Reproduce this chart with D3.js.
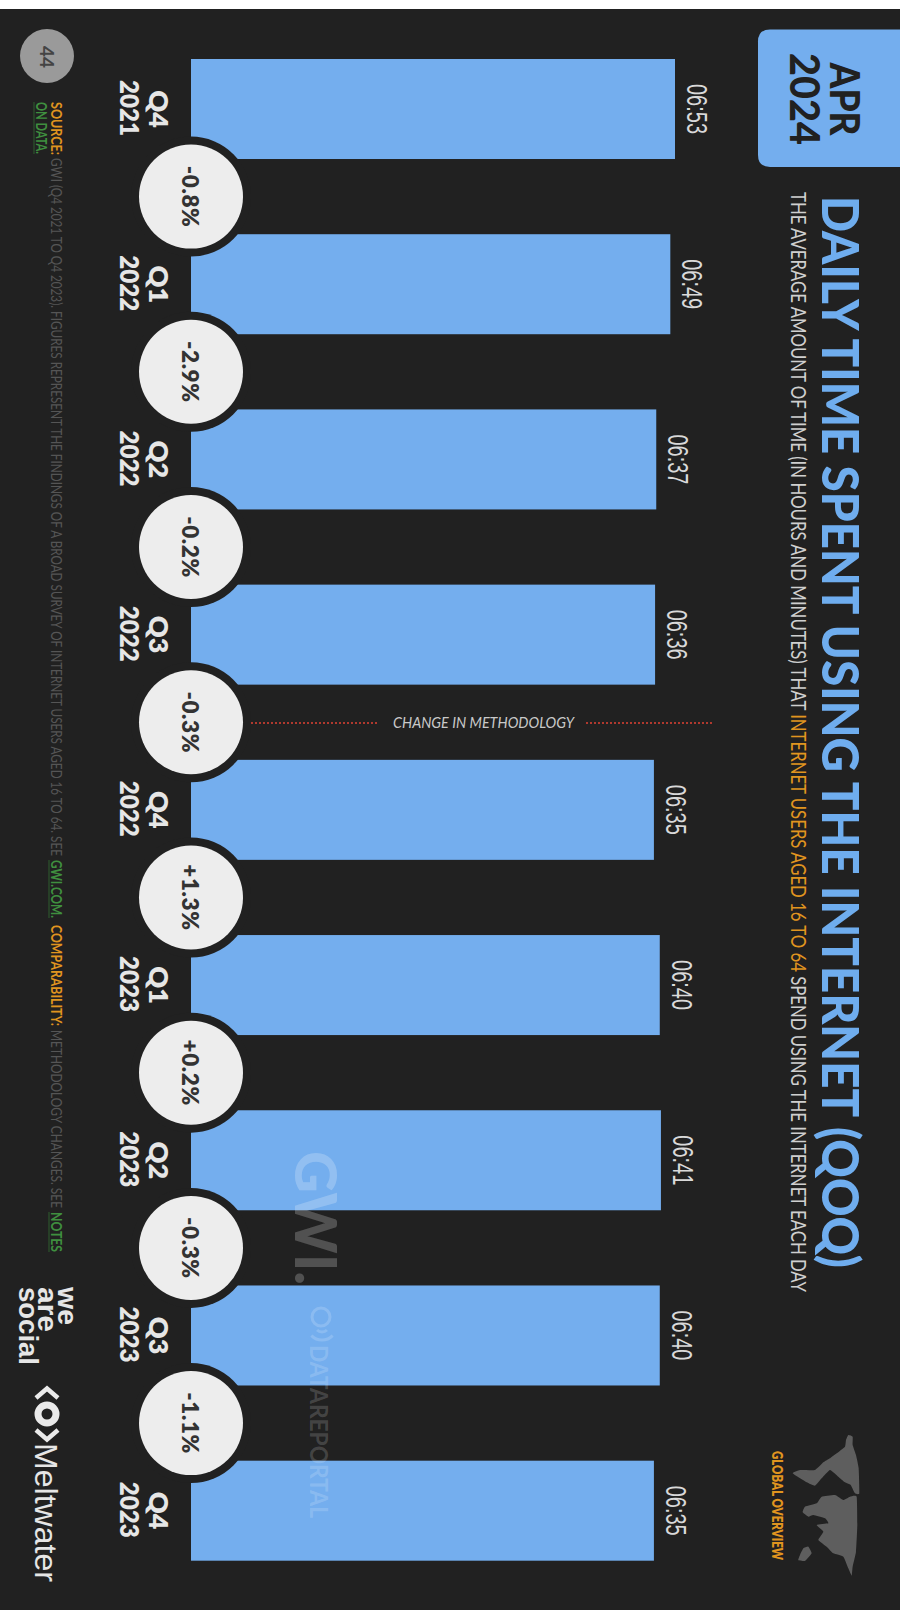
<!DOCTYPE html>
<html>
<head>
<meta charset="utf-8">
<title>Daily time spent using the internet (QoQ)</title>
<script src="https://cdn.jsdelivr.net/npm/d3@7"></script>
<style>
  html, body { margin: 0; padding: 0; background: #fff; }
  svg { display: block; }
  text { font-family: Lato, "Open Sans", sans-serif; }
</style>
</head>
<body>
<svg id="chart" width="900" height="1620"></svg>
<script>
// Quarterly series: average daily time online, with the quarter-on-quarter change.
const quarters = ["Q4", "Q1", "Q2", "Q3", "Q4", "Q1", "Q2", "Q3", "Q4"];
const years = ["2021", "2022", "2022", "2022", "2022", "2023", "2023", "2023", "2023"];
const durations = ["06:53", "06:49", "06:37", "06:36", "06:35", "06:40", "06:41", "06:40", "06:35"];
const changes = ["-0.8%", "-2.9%", "-0.2%", "-0.3%", "+1.3%", "+0.2%", "-0.3%", "-1.1%"];
const methodologyBreakAfter = 3;

const titleText = "DAILY TIME SPENT USING THE INTERNET (QOQ)";
const subtitleParts = [
  ["THE AVERAGE AMOUNT OF TIME (IN HOURS AND MINUTES) THAT ", "#cfcfcf"],
  ["INTERNET USERS AGED 16 TO 64", "#e0951f"],
  [" SPEND USING THE INTERNET EACH DAY", "#cfcfcf"]
];
const sourceParts = [
  ["SOURCE:", "#e0951f", 700, 102, 53],
  ["GWI (Q4 2021 TO Q4 2023). FIGURES REPRESENT THE FINDINGS OF A BROAD SURVEY OF INTERNET USERS AGED 16 TO 64. SEE", "#555555", 400, 158, 698],
  ["GWI.COM.", "#3f8f3f", 700, 860, 58],
  ["COMPARABILITY:", "#e0951f", 700, 925, 101],
  ["METHODOLOGY CHANGES. SEE", "#555555", 400, 1030, 178],
  ["NOTES", "#3f8f3f", 700, 1212, 40]
];

const BACKGROUND = "#212121";
const BLUE = "#74aeee";

const toMinutes = t => { const [h, m] = t.split(":").map(Number); return h * 60 + m; };
const minutes = durations.map(toMinutes);
const indices = d3.range(durations.length);

const svg = d3.select("#chart");
svg.append("rect").attr("x", 0).attr("y", 9).attr("width", 900).attr("height", 1601).attr("fill", BACKGROUND);

// The slide is laid out landscape, then turned a quarter clockwise.
const slide = svg.append("g").attr("transform", "translate(900,0) rotate(90)");

const BASELINE = 709;
const x = d3.scaleBand().domain(indices).range([59, 1560.7]).paddingInner(0.4292).paddingOuter(0);
const y = d3.scaleLinear().domain([0, d3.max(minutes)]).range([BASELINE, BASELINE - 484]);

// Date tab
slide.append("path")
  .attr("d", "M29.5,-5 V130 Q29.5,142 41.5,142 H155 Q167,142 167,130 V-5 Z")
  .attr("fill", BLUE);
slide.append("text").attr("x", 99).attr("y", 70).attr("text-anchor", "middle")
  .attr("font-size", 41).attr("font-weight", 900).attr("fill", BACKGROUND)
  .attr("textLength", 73).attr("lengthAdjust", "spacingAndGlyphs").text("APR");
slide.append("text").attr("x", 99).attr("y", 110).attr("text-anchor", "middle")
  .attr("font-size", 41).attr("font-weight", 900).attr("fill", BACKGROUND)
  .attr("textLength", 92).attr("lengthAdjust", "spacingAndGlyphs").text("2024");

// Heading
slide.append("text").attr("x", 196).attr("y", 78)
  .attr("font-size", 52).attr("font-weight", 900).attr("fill", "#6fadee")
  .attr("textLength", 1072).attr("lengthAdjust", "spacingAndGlyphs").text(titleText);

const subtitle = slide.append("text").attr("x", 192).attr("y", 109.5)
  .attr("font-size", 20.5).attr("textLength", 1100).attr("lengthAdjust", "spacingAndGlyphs");
subtitle.selectAll("tspan").data(subtitleParts).join("tspan")
  .attr("fill", d => d[1]).attr("xml:space", "preserve").text(d => d[0]);

// Bars
slide.append("g").selectAll("rect").data(indices).join("rect")
  .attr("x", i => x(i)).attr("width", x.bandwidth())
  .attr("y", i => y(minutes[i])).attr("height", i => BASELINE - y(minutes[i]))
  .attr("fill", BLUE);

// Duration labels
slide.append("g").selectAll("text").data(indices).join("text")
  .attr("x", i => x(i) + x.bandwidth() / 2).attr("y", i => y(minutes[i]) - 12)
  .attr("text-anchor", "middle").attr("font-size", 30).attr("fill", "#d9d9d9")
  .style("font-family", '"Liberation Sans Narrow", "Liberation Sans", sans-serif')
  .attr("textLength", 50).attr("lengthAdjust", "spacingAndGlyphs")
  .text(i => durations[i]);

// Category axis: quarter over year
const axis = slide.append("g").attr("transform", `translate(0,${BASELINE})`)
  .call(d3.axisBottom(x).tickSize(0).tickFormat(""));
axis.select(".domain").remove();
axis.selectAll(".tick text").each(function (i) {
  const label = d3.select(this).attr("y", null).attr("dy", null)
    .attr("fill", "#e6e6e6").attr("font-size", 27).attr("font-weight", 800)
    .attr("text-anchor", "middle");
  label.append("tspan").attr("x", 0).attr("y", 42).text(quarters[i]);
  label.append("tspan").attr("x", -1).attr("y", 71).attr("textLength", 56)
    .attr("lengthAdjust", "spacingAndGlyphs").text(years[i]);
});

// Change badges sit across the baseline, midway between neighbouring bars
const midpoint = i => (x(i) + x.bandwidth() + x(i + 1)) / 2;
const badges = slide.append("g").selectAll("g").data(changes).join("g")
  .attr("transform", (d, i) => `translate(${midpoint(i)},${BASELINE})`);
badges.append("circle").attr("r", 60).attr("fill", BACKGROUND);
badges.append("circle").attr("r", 52).attr("fill", "#ededed");
badges.append("text").attr("text-anchor", "middle").attr("y", 9)
  .attr("font-size", 22.5).attr("font-weight", 800).attr("letter-spacing", 0.6)
  .attr("fill", "#333").text(d => d);

// Methodology marker, read across the gap between two bars
const breakY = midpoint(methodologyBreakAfter);
const dotted = [[251, 379], [586, 714]];
svg.append("g").selectAll("line").data(dotted).join("line")
  .attr("x1", d => d[0]).attr("x2", d => d[1]).attr("y1", breakY + 0.7).attr("y2", breakY + 0.7)
  .attr("stroke", "#b0392e").attr("stroke-width", 2).attr("stroke-dasharray", "2 2");
svg.append("text").attr("x", 393).attr("y", breakY + 6)
  .attr("font-size", 15.5).attr("font-style", "italic").attr("fill", "#c9c9c9")
  .attr("textLength", 181).attr("lengthAdjust", "spacingAndGlyphs").text("CHANGE IN METHODOLOGY");

// Faint publisher marks laid over the chart
const marks = slide.append("g");
marks.append("text").attr("x", 1151).attr("y", 605)
  .attr("font-size", 58).attr("font-weight", 900).attr("fill", "#fff").attr("fill-opacity", 0.22)
  .attr("textLength", 134).attr("lengthAdjust", "spacingAndGlyphs").text("GWI.");
marks.append("text").attr("x", 1345).attr("y", 590)
  .attr("font-size", 25).attr("font-weight", 700).attr("fill", "#fff").attr("fill-opacity", 0.17)
  .attr("textLength", 173).attr("lengthAdjust", "spacingAndGlyphs").text("DATAREPORTAL");
const waves = marks.append("g").attr("transform", "translate(1325,578)")
  .attr("fill", "none").attr("stroke", "#fff").attr("stroke-opacity", 0.17).attr("stroke-width", 3);
[7, 15].forEach(r => waves.append("path").attr("d", d3.arc()({
  innerRadius: r, outerRadius: r, startAngle: Math.PI / 4, endAngle: Math.PI * 3 / 4
})));
waves.append("circle").attr("r", 9).attr("cx", -8).attr("cy", 1);

// Page number
slide.append("circle").attr("cx", 56).attr("cy", 853).attr("r", 27).attr("fill", "#9a9a9a");
slide.append("text").attr("x", 57).attr("y", 860).attr("text-anchor", "middle")
  .attr("font-size", 19).attr("font-weight", 700).attr("fill", "#444").text("44");

// Source note
slide.append("g").selectAll("text").data(sourceParts).join("text")
  .attr("x", d => d[3]).attr("y", 849).attr("font-size", 14.5).attr("font-weight", d => d[2])
  .attr("fill", d => d[1]).attr("textLength", d => d[4]).attr("lengthAdjust", "spacingAndGlyphs")
  .text(d => d[0]);
slide.append("text").attr("x", 102).attr("y", 864).attr("font-size", 14.5).attr("font-weight", 700)
  .attr("fill", "#3f8f3f").attr("textLength", 52).attr("lengthAdjust", "spacingAndGlyphs").text("ON DATA.");
const noteRules = [[102, 154, 866], [860, 918, 851], [1212, 1252, 851]];
slide.append("g").selectAll("line").data(noteRules).join("line")
  .attr("x1", d => d[0]).attr("x2", d => d[1]).attr("y1", d => d[2]).attr("y2", d => d[2])
  .attr("stroke", "#2f5f2f").attr("stroke-width", 1);

// Partner names
const partnerLines = ["we", "are", "social"];
const partnerWidths = [38, 45, 78];
slide.append("g").selectAll("text").data(partnerLines).join("text")
  .attr("x", 1287).attr("y", (d, i) => 842 + i * 19.7)
  .attr("font-size", 27).attr("font-weight", 700).attr("fill", "#e6e6e6")
  .attr("textLength", (d, i) => partnerWidths[i]).attr("lengthAdjust", "spacingAndGlyphs")
  .style("font-family", '"Liberation Sans", sans-serif').text(d => d);

// Angle-bracket ring ahead of the second partner name
const logo = slide.append("g").attr("fill", "none").attr("stroke", "#eaeaea").attr("stroke-linecap", "butt");
logo.append("circle").attr("cx", 1414).attr("cy", 853).attr("r", 9).attr("stroke-width", 7);
logo.append("path").attr("d", "M1398,842 L1388.5,853 L1398,864 M1430,842 L1439.5,853 L1430,864").attr("stroke-width", 4.5);
slide.append("text").attr("x", 1443).attr("y", 865).attr("font-size", 32).attr("fill", "#e6e6e6")
  .attr("textLength", 139).attr("lengthAdjust", "spacingAndGlyphs")
  .style("font-family", '"Liberation Sans", sans-serif').text("Meltwater");

// Section tag with a small world map
slide.append("text").attr("x", 1451).attr("y", 128).attr("font-size", 14).attr("font-weight", 800)
  .attr("fill", "#e0951f").attr("textLength", 109).attr("lengthAdjust", "spacingAndGlyphs").text("GLOBAL OVERVIEW");
const mapOutlines = [
  [[205,30],[218,35],[218,60],[228,90],[236,130],[238,205],[225,205],[212,180],[195,172],[175,155],[150,135],[125,160],[105,182],[80,172],[38,145],[60,135],[105,135],[130,112],[150,100],[170,85],[195,65],[198,45]],
  [[230,215],[232,300],[228,380],[218,425],[215,452],[205,430],[190,395],[160,385],[140,365],[115,345],[130,320],[110,300],[145,295],[135,280],[100,270],[85,275],[68,262],[75,245],[110,235],[125,215],[165,210],[190,225],[210,215]],
  [[60,390],[70,370],[85,365],[95,385],[75,408],[55,405]]
];
svg.append("g").attr("transform", "translate(780,1425) scale(0.3333)")
  .selectAll("path").data(mapOutlines).join("path")
  .attr("d", d3.line().curve(d3.curveCardinalClosed.tension(0.6)))
  .attr("fill", "#5e5e5e");
</script>
</body>
</html>
